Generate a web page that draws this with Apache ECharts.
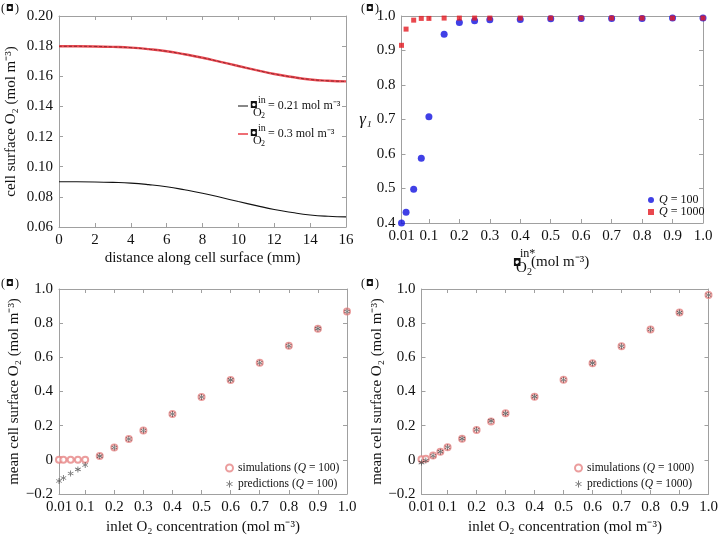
<!DOCTYPE html>
<html>
<head>
<meta charset="utf-8">
<script src="https://cdn.jsdelivr.net/npm/echarts@6/dist/echarts.min.js"></script>
<style>
  html, body { margin: 0; padding: 0; background: #fff; }
  #main { width: 719px; height: 542px; }
</style>
</head>
<body>
<div id="main"></div>
<script>
// (a) cell surface O2 along the surface
var distance = [0, 1, 2, 3, 4, 5, 6, 7, 8, 9, 10, 11, 12, 13, 14, 15, 16];
var surfO2_021 = [0.0900, 0.0900, 0.0899, 0.0896, 0.0891, 0.0881, 0.0867, 0.0847, 0.0824, 0.0797, 0.0769, 0.0742, 0.0716, 0.0696, 0.0680, 0.0671, 0.0667];
var surfO2_03 = [0.1799, 0.1799, 0.1798, 0.1795, 0.1790, 0.1780, 0.1766, 0.1746, 0.1723, 0.1696, 0.1668, 0.1641, 0.1615, 0.1595, 0.1579, 0.1570, 0.1566];

// (b)-(d) inlet concentrations
var inletO2 = [0.01, 0.025, 0.05, 0.075, 0.1, 0.15, 0.2, 0.25, 0.3, 0.4, 0.5, 0.6, 0.7, 0.8, 0.9, 1.0];
var gammaQ100 = [0.400, 0.431, 0.498, 0.588, 0.708, 0.947, 0.981, 0.986, 0.989, 0.990, 0.992, 0.993, 0.993, 0.993, 0.994, 0.994];
var gammaQ1000 = [0.915, 0.962, 0.988, 0.993, 0.993, 0.994, 0.994, 0.994, 0.994, 0.994, 0.994, 0.994, 0.994, 0.994, 0.994, 0.994];
var simQ100 = [0, 0, 0, 0, 0, 0.022, 0.072, 0.122, 0.172, 0.268, 0.368, 0.468, 0.568, 0.668, 0.768, 0.868];
var predQ100 = [-0.124, -0.106, -0.080, -0.056, -0.030, 0.022, 0.072, 0.122, 0.172, 0.268, 0.368, 0.468, 0.568, 0.668, 0.768, 0.868];
var simQ1000 = [0.004, 0.006, 0.025, 0.048, 0.073, 0.123, 0.174, 0.225, 0.272, 0.370, 0.469, 0.566, 0.665, 0.763, 0.862, 0.965];
var predQ1000 = [-0.016, -0.004, 0.024, 0.048, 0.074, 0.124, 0.176, 0.228, 0.272, 0.370, 0.469, 0.566, 0.665, 0.763, 0.862, 0.965];

var inletTicks = [0.01, 0.1, 0.2, 0.3, 0.4, 0.5, 0.6, 0.7, 0.8, 0.9, 1.0];

var serif = 'Liberation Serif';
var grey = '#a0a0a0';
var asterisk = 'path://M-0.6,-5L0.6,-5L0.6,5L-0.6,5Z' +
  'M4.03,3.02L4.63,1.98L-4.03,-3.02L-4.63,-1.98Z' +
  'M-4.63,1.98L-4.03,3.02L4.63,-1.98L4.03,-3.02Z';

function pairs(xs, ys) {
  return xs.map(function (x, i) { return [x, ys[i]]; });
}

// one axis, with ticks pointing inwards; mirror axes have no labels
function axis(grid, pos, min, max, opts) {
  var mirror = pos === 'top' || pos === 'right';
  var a = {
    type: 'value',
    gridIndex: grid,
    position: pos,
    min: min,
    max: max,
    axisLine: { show: true, onZero: false, lineStyle: { color: grey, width: 1 } },
    axisTick: { show: true, inside: true, length: 4, lineStyle: { color: grey } },
    axisLabel: { show: !mirror, color: '#111', fontFamily: serif, fontSize: 15, margin: 6 },
    splitLine: { show: false }
  };
  if (opts.interval) a.interval = opts.interval;
  if (opts.custom) {
    a.axisTick.customValues = opts.custom;
    a.axisLabel.customValues = opts.custom;
  }
  if (opts.formatter) a.axisLabel.formatter = opts.formatter;
  if (!mirror && opts.name) {
    a.name = opts.name;
    a.nameLocation = 'middle';
    a.nameGap = opts.nameGap;
    a.nameRotate = opts.nameRotate;
    a.nameTextStyle = { color: '#111', fontFamily: serif, fontSize: opts.nameSize || 15, fontStyle: opts.nameStyle || 'normal' };
  }
  return a;
}

function inletFmt(v) { return v === 0.01 ? '0.01' : v.toFixed(1); }
function meanFmt(v) {
  if (Math.abs(v) < 1e-9) return '0';
  return (v < 0 ? '\u2212' : '') + Math.abs(v).toFixed(1);
}

var grids = [
  { left: 59, top: 16, width: 287, height: 211 },
  { left: 401.5, top: 16, width: 301.5, height: 207 },
  { left: 59, top: 289, width: 288, height: 205 },
  { left: 421.5, top: 289, width: 287, height: 205 }
].map(function (g) { g.outerBoundsMode = 'none'; return g; });

var meanName = 'mean cell surface O\u2082 (mol m\u207b\u00b3)';
var xAxes = [
  axis(0, 'bottom', 0, 16, { interval: 2, name: 'distance along cell surface (mm)', nameGap: 24 }),
  axis(0, 'top', 0, 16, { interval: 2 }),
  axis(1, 'bottom', 0.01, 1, { custom: inletTicks, formatter: inletFmt }),
  axis(1, 'top', 0.01, 1, { custom: inletTicks }),
  axis(2, 'bottom', 0.01, 1, { custom: inletTicks, formatter: inletFmt, name: 'inlet O\u2082 concentration (mol m\u207b\u00b3)', nameGap: 26 }),
  axis(2, 'top', 0.01, 1, { custom: inletTicks }),
  axis(3, 'bottom', 0.01, 1, { custom: inletTicks, formatter: inletFmt, name: 'inlet O\u2082 concentration (mol m\u207b\u00b3)', nameGap: 26 }),
  axis(3, 'top', 0.01, 1, { custom: inletTicks })
];
var yAxes = [
  axis(0, 'left', 0.06, 0.2, { interval: 0.02, formatter: function (v) { return v.toFixed(2); }, name: 'cell surface O\u2082 (mol m\u207b\u00b3)', nameGap: 40, nameRotate: 90 }),
  axis(0, 'right', 0.06, 0.2, { interval: 0.02 }),
  axis(1, 'left', 0.4, 1, { interval: 0.1, formatter: function (v) { return v.toFixed(1); }, name: '\u03b3\u2081', nameGap: 29, nameRotate: 0, nameSize: 17, nameStyle: 'italic' }),
  axis(1, 'right', 0.4, 1, { interval: 0.1 }),
  axis(2, 'left', -0.2, 1, { interval: 0.2, formatter: meanFmt, name: meanName, nameGap: 37, nameRotate: 90 }),
  axis(2, 'right', -0.2, 1, { interval: 0.2 }),
  axis(3, 'left', -0.2, 1, { interval: 0.2, formatter: meanFmt, name: meanName, nameGap: 37, nameRotate: 90 }),
  axis(3, 'right', -0.2, 1, { interval: 0.2 })
];

var series = [
  { name: 'in021', type: 'line', xAxisIndex: 0, yAxisIndex: 0, data: pairs(distance, surfO2_021), smooth: true, showSymbol: false, lineStyle: { color: '#111', width: 1.1 } },
  { name: 'in03', type: 'line', xAxisIndex: 0, yAxisIndex: 0, data: pairs(distance, surfO2_03), smooth: true, showSymbol: false, lineStyle: { color: '#ea4a52', width: 2.4 } },
  { name: 'in03dash', type: 'line', xAxisIndex: 0, yAxisIndex: 0, data: pairs(distance, surfO2_03), smooth: true, showSymbol: false, lineStyle: { color: '#7a2026', width: 0.8, type: [3, 2] } },
  { name: 'Q = 100', type: 'scatter', xAxisIndex: 2, yAxisIndex: 2, data: pairs(inletO2, gammaQ100), symbol: 'circle', symbolSize: 7, itemStyle: { color: '#1010e0' } },
  { name: 'Q = 1000', type: 'scatter', xAxisIndex: 2, yAxisIndex: 2, data: pairs(inletO2, gammaQ1000), symbol: 'rect', symbolSize: 5, itemStyle: { color: '#e41a22' } },
  { name: 'simulations (Q = 100)', type: 'scatter', xAxisIndex: 4, yAxisIndex: 4, data: pairs(inletO2, simQ100), symbol: 'emptyCircle', symbolSize: 6, itemStyle: { color: '#e68585', borderWidth: 0.7 } },
  { name: 'predictions (Q = 100)', type: 'scatter', xAxisIndex: 4, yAxisIndex: 4, data: pairs(inletO2, predQ100), symbol: asterisk, symbolSize: 6, itemStyle: { color: '#3a3a3a' } },
  { name: 'simulations (Q = 1000)', type: 'scatter', xAxisIndex: 6, yAxisIndex: 6, data: pairs(inletO2, simQ1000), symbol: 'emptyCircle', symbolSize: 6, itemStyle: { color: '#e68585', borderWidth: 0.7 } },
  { name: 'predictions (Q = 1000)', type: 'scatter', xAxisIndex: 6, yAxisIndex: 6, data: pairs(inletO2, predQ1000), symbol: asterisk, symbolSize: 6, itemStyle: { color: '#3a3a3a' } }
];
series.forEach(function (s) { s.silent = true; s.animation = false; });

function legendAt(names, left, top, size, gap, iconSize) {
  return {
    data: names, left: left, top: top, orient: 'vertical', selectedMode: false,
    itemWidth: iconSize, itemHeight: iconSize, itemGap: gap,
    formatter: function (n) { return n.replace('Q', '{q|Q}'); },
    textStyle: { fontFamily: serif, fontSize: size, color: '#111', rich: { q: { fontFamily: serif, fontSize: size, fontStyle: 'italic', color: '#111' } } }
  };
}

// texts with stacked sub/superscripts and the panel tags
function txt(x, y, s, size, extra) {
  var st = { text: s, fontFamily: serif, fontSize: size, fill: '#111', verticalAlign: 'middle' };
  for (var k in extra) st[k] = extra[k];
  return { type: 'text', x: x, y: y, style: st, silent: true };
}
function boxGlyph(x, y, size) {
  return txt(x, y, '\u25d8', size, { fontFamily: 'DejaVu Sans', fontWeight: 'bold' });
}
function inletLabel(x, y, rest) {
  return [
    boxGlyph(x, y, 9),
    txt(x + 8, y - 6, 'in', 10),
    txt(x + 3, y + 7, 'O', 12),
    txt(x + 11, y + 10, '2', 8),
    txt(x + 18, y, rest, 12)
  ];
}
var graphics = [];
[[1, 9], [361, 9], [1, 284], [361, 284]].forEach(function (p) {
  graphics.push(txt(p[0], p[1], '(', 12));
  graphics.push(boxGlyph(p[0] + 5, p[1], 9));
  graphics.push(txt(p[0] + 14, p[1], ')', 12));
});
graphics.push({ type: 'line', shape: { x1: 238, y1: 106, x2: 248, y2: 106 }, style: { stroke: '#111', lineWidth: 1 }, silent: true });
graphics.push({ type: 'line', shape: { x1: 238, y1: 134, x2: 248, y2: 134 }, style: { stroke: '#ea4a52', lineWidth: 1.6 }, silent: true });
graphics = graphics.concat(inletLabel(250, 106, '= 0.21 mol m\u207b\u00b3'));
graphics = graphics.concat(inletLabel(250, 134, '= 0.3 mol m\u207b\u00b3'));
// x-axis title of (b)
graphics.push(boxGlyph(513, 263, 10));
graphics.push(txt(520, 254, 'in*', 12));
graphics.push(txt(516, 268, 'O', 15));
graphics.push(txt(527, 272, '2', 10));
graphics.push(txt(531, 262, '(mol m\u207b\u00b3)', 15));

var chart = echarts.init(document.getElementById('main'));
chart.setOption({
  backgroundColor: '#fff',
  animation: false,
  grid: grids,
  xAxis: xAxes,
  yAxis: yAxes,
  legend: [
    legendAt(['Q = 100', 'Q = 1000'], 643, 189, 12, 0, 6),
    legendAt(['simulations (Q = 100)', 'predictions (Q = 100)'], 220, 457, 11.5, 4, 7),
    legendAt(['simulations (Q = 1000)', 'predictions (Q = 1000)'], 569, 457, 11.5, 4, 7)
  ],
  graphic: graphics,
  series: series
});
</script>
</body>
</html>
